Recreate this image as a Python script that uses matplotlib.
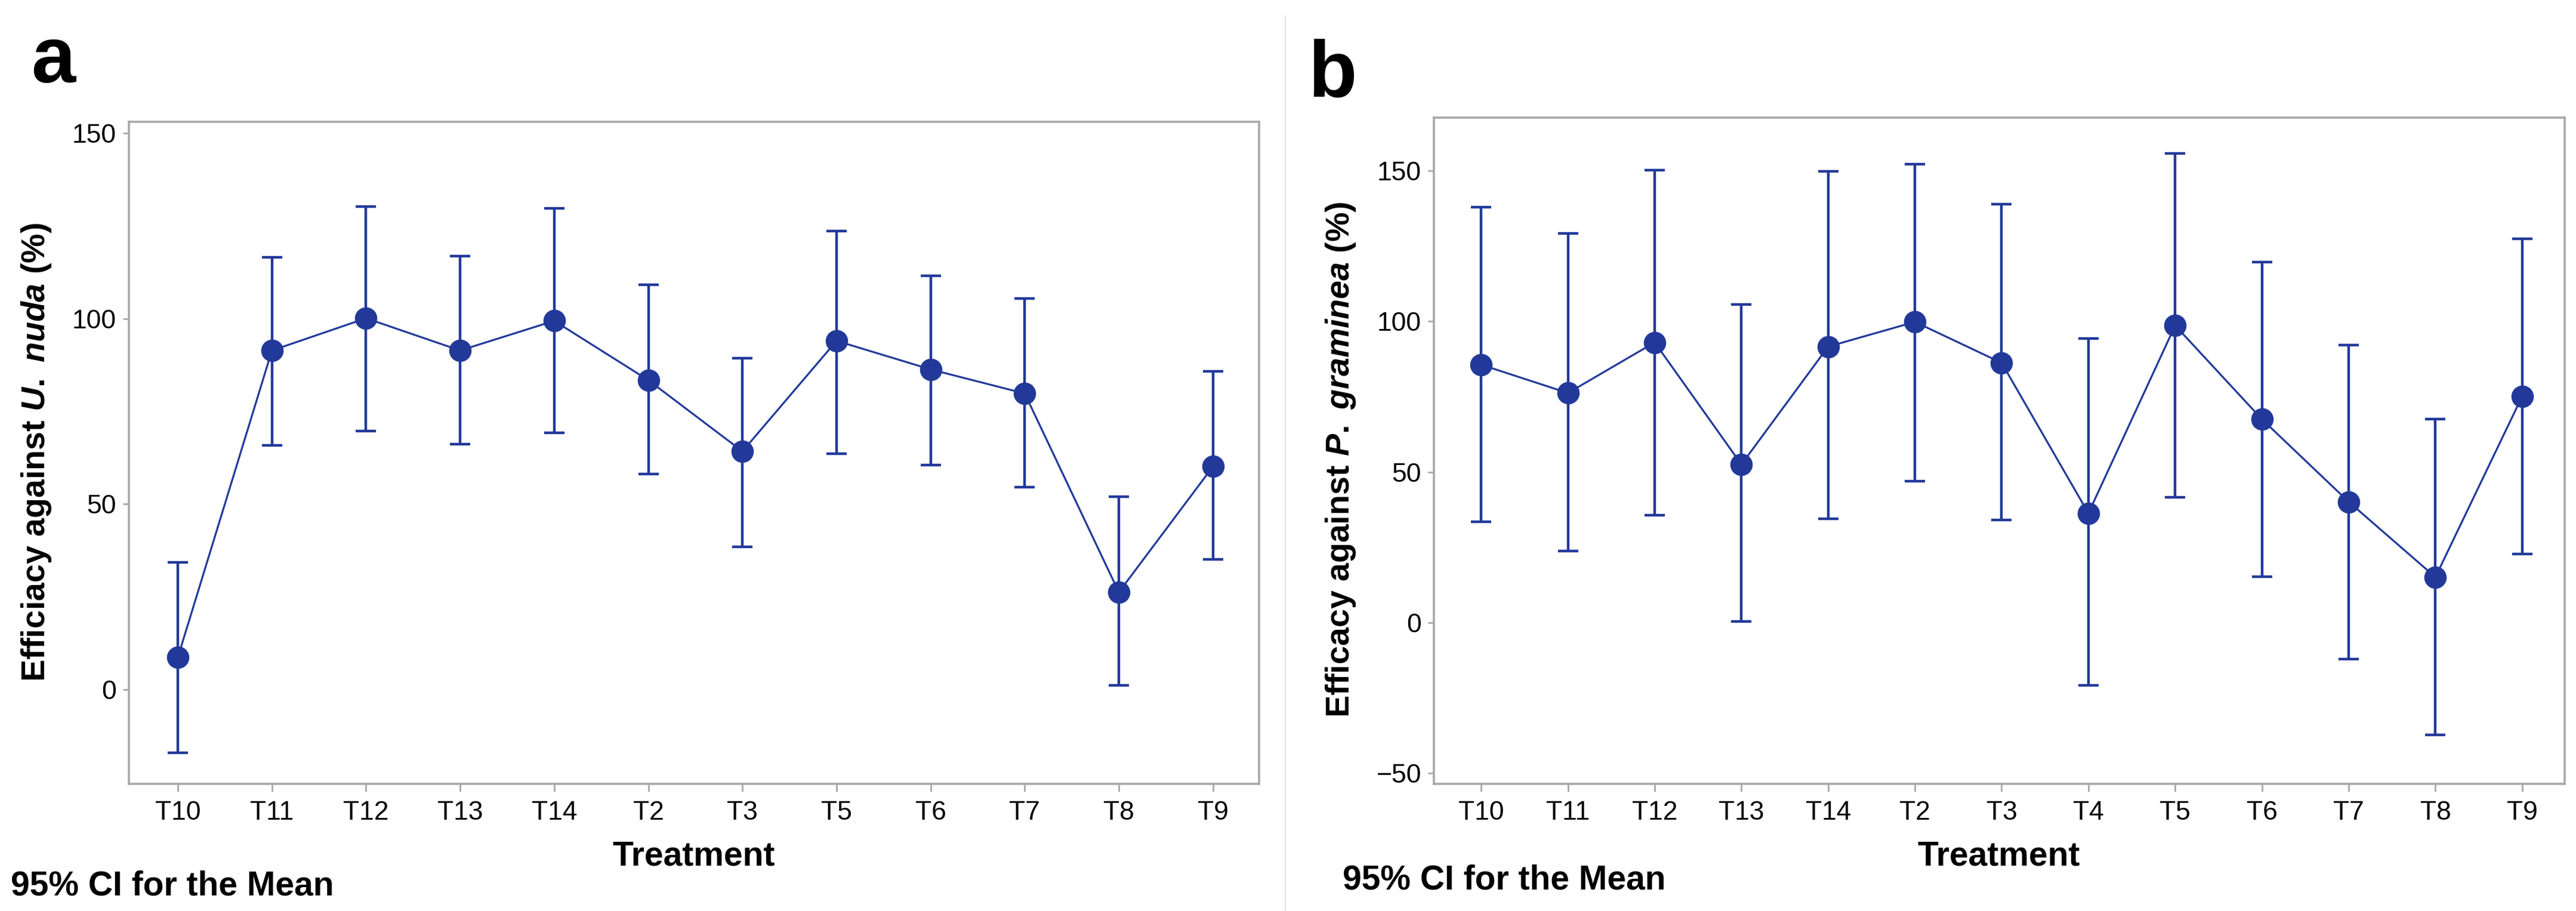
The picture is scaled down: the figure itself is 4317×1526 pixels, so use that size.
import matplotlib
matplotlib.use("Agg")
import matplotlib.pyplot as plt
from matplotlib.lines import Line2D

plt.rcParams['font.family'] = ['Liberation Sans', 'DejaVu Sans']
plt.rcParams['mathtext.fontset'] = 'custom'
plt.rcParams['mathtext.it'] = 'Liberation Sans:bold:italic'
plt.rcParams['mathtext.rm'] = 'Liberation Sans:bold'
plt.rcParams['mathtext.bf'] = 'Liberation Sans:bold'

# ---- data ----
cats_a = ['T10', 'T11', 'T12', 'T13', 'T14', 'T2', 'T3', 'T5', 'T6', 'T7', 'T8', 'T9']
mean_a = [8.6, 91.4, 100.1, 91.4, 99.4, 83.4, 64.2, 94.0, 86.3, 79.8, 26.2, 60.1]
upper_a = [34.2, 116.6, 130.3, 116.9, 129.8, 109.1, 89.4, 123.6, 111.6, 105.5, 52.0, 85.8]
lower_a = [-17.1, 65.8, 69.7, 66.1, 69.2, 58.1, 38.4, 63.5, 60.5, 54.6, 1.0, 35.0]

cats_b = ['T10', 'T11', 'T12', 'T13', 'T14', 'T2', 'T3', 'T4', 'T5', 'T6', 'T7', 'T8', 'T9']
mean_b = [85.6, 76.2, 93.0, 52.5, 91.6, 99.8, 86.2, 36.3, 98.6, 67.5, 40.1, 15.1, 75.1]
upper_b = [137.9, 129.1, 150.2, 105.6, 149.7, 152.1, 138.9, 94.2, 155.8, 119.7, 92.2, 67.5, 127.3]
lower_b = [33.4, 23.8, 35.7, 0.3, 34.5, 46.9, 34.0, -20.9, 41.6, 15.2, -12.1, -37.3, 22.8]

yticks_a = [0, 50, 100, 150]
yticks_b = [-50, 0, 50, 100, 150]

W, H = 4317, 1526
fig = plt.figure(figsize=(W / 100, H / 100), dpi=100)
fig.patch.set_facecolor('white')

BLUE = '#22399a'
SPINE = '#a8a8a8'


def px(x0, y0, x1, y1):
    return [x0 / W, 1 - y1 / H, (x1 - x0) / W, (y1 - y0) / H]


def panel(rect, cats, mean, upper, lower, yticks, ylim, xlim):
    ax = fig.add_axes(rect)
    x = list(range(len(cats)))
    err = [[m - l for m, l in zip(mean, lower)], [u - m for m, u in zip(mean, upper)]]
    ax.errorbar(x, mean, yerr=err, fmt='none', ecolor=BLUE, elinewidth=3.2,
                capsize=12.5, capthick=3.2, zorder=2)
    ax.plot(x, mean, '-', color=BLUE, lw=2.3, zorder=3)
    ax.plot(x, mean, 'o', color=BLUE, ms=26, mec=BLUE, zorder=4)
    ax.set_xticks(x)
    ax.set_xticklabels(cats)
    ax.set_yticks(yticks)
    ax.set_ylim(*ylim)
    ax.set_xlim(*xlim)
    for s in ax.spines.values():
        s.set_color(SPINE)
        s.set_linewidth(2.6)
    ax.tick_params(axis='x', length=9, width=2, color=SPINE, labelsize=32, pad=11)
    ax.tick_params(axis='y', length=7, width=2, color=SPINE, labelsize=32, pad=8)
    return ax


ax_a = panel(px(216, 204, 2110, 1313), cats_a, mean_a, upper_a, lower_a,
             yticks_a, (-25.5, 153.1), (-0.52, 11.49))
ax_b = panel(px(2403, 197, 4298, 1313), cats_b, mean_b, upper_b, lower_b,
             yticks_b, (-53.5, 167.6), (-0.545, 12.49))

# axis labels
fig.text(61 / W, 1 - 758 / H, r'Efficiacy against $\it{U.\ nuda}$ (%)', rotation=90,
         ha='center', va='center', fontsize=40, fontweight='bold')
fig.text(2247 / W, 1 - 770 / H, r'Efficacy against $\it{P.\ graminea}$ (%)', rotation=90,
         ha='center', va='center', fontsize=40, fontweight='bold')
fig.text(1163 / W, 1 - 1435 / H, 'Treatment', ha='center', va='center',
         fontsize=41, fontweight='bold')
fig.text(3350 / W, 1 - 1435 / H, 'Treatment', ha='center', va='center',
         fontsize=41, fontweight='bold')

# footnotes
fig.text(18 / W, 1 - 1484 / H, '95% CI for the Mean', ha='left', va='center',
         fontsize=41, fontweight='bold')
fig.text(2250 / W, 1 - 1475 / H, '95% CI for the Mean', ha='left', va='center',
         fontsize=41, fontweight='bold')

# panel letters
fig.text(52 / W, 1 - 138 / H, 'a', ha='left', va='baseline', fontsize=96, fontweight='bold')
fig.text(2192 / W, 1 - 161 / H, 'b', ha='left', va='baseline', fontsize=96, fontweight='bold')

# separator
fig.add_artist(Line2D([2154 / W, 2154 / W], [0, 1 - 27 / H], transform=fig.transFigure,
                      color='#e2e2e2', lw=1.5))

fig.savefig('out.png', dpi=100, facecolor='white')
